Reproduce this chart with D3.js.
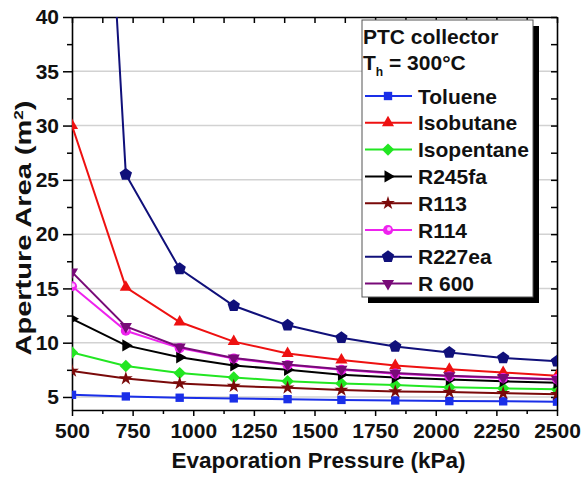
<!DOCTYPE html>
<html>
<head>
<meta charset="utf-8">
<script src="https://cdn.jsdelivr.net/npm/d3@7/dist/d3.min.js"></script>
<style>
  html, body { margin: 0; padding: 0; background: #fff; }
  svg { display: block; font-family: "Liberation Sans", Arial, sans-serif; font-weight: bold; }
</style>
</head>
<body>
<svg id="chart" width="582" height="481"></svg>
<script>
// Evaporation pressure (kPa) at which each fluid was evaluated
const pressures = [500, 722, 944, 1167, 1389, 1611, 1833, 2056, 2278, 2500];

// Required aperture area (m²) for each working fluid
const toluene    = [5.2, 5.05, 4.93, 4.87, 4.8, 4.73, 4.68, 4.62, 4.6, 4.57];
const isobutane  = [30.0, 15.1, 11.9, 10.1, 9.0, 8.4, 7.9, 7.55, 7.25, 6.95];
const isopentane = [9.1, 7.85, 7.2, 6.8, 6.45, 6.25, 6.1, 5.9, 5.8, 5.7];
const r245fa     = [12.2, 9.75, 8.65, 7.9, 7.5, 7.05, 6.8, 6.6, 6.45, 6.3];
const r113       = [7.4, 6.7, 6.25, 6.0, 5.85, 5.65, 5.5, 5.45, 5.35, 5.25];
const r114       = [15.2, 11.1, 9.5, 8.55, 7.95, 7.5, 7.15, 6.9, 6.75, 6.65];
const r227ea     = [112, 25.5, 16.8, 13.4, 11.6, 10.45, 9.65, 9.1, 8.6, 8.3];
const r600       = [16.5, 11.5, 9.6, 8.6, 8.0, 7.55, 7.2, 6.95, 6.8, 6.6];

const seriesNames  = ["Toluene", "Isobutane", "Isopentane", "R245fa", "R113", "R114", "R227ea", "R 600"];
const seriesValues = [toluene, isobutane, isopentane, r245fa, r113, r114, r227ea, r600];
const seriesColors = ["#1a2fe8", "#ee1111", "#22e622", "#000000", "#7a0a0a", "#ee22ee", "#10107a", "#780a78"];
const seriesMarkers = ["square", "triangleUp", "diamond", "triangleRight", "star", "circle", "pentagon", "triangleDown"];

const xTicks = [500, 750, 1000, 1250, 1500, 1750, 2000, 2250, 2500];
const yTicks = [5, 10, 15, 20, 25, 30, 35, 40];

const legendTitle = "PTC collector";
const xTitle = "Evaporation Pressure (kPa)";

const svg = d3.select("#chart");
const plot = { left: 72, right: 557, top: 17, bottom: 410 };

const x = d3.scaleLinear().domain([500, 2500]).range([plot.left, plot.right]);
const y = d3.scaleLinear().domain([3.8, 40]).range([plot.bottom, plot.top]);

// horizontal grid lines at major y ticks
svg.append("g").selectAll("line")
  .data(yTicks.filter(v => v < 40))
  .join("line")
  .attr("x1", plot.left).attr("x2", plot.right)
  .attr("y1", d => y(d)).attr("y2", d => y(d))
  .attr("stroke", "#d2d2d2").attr("stroke-width", 1.5);

// axes: major ticks labelled, minor ticks between them
const xMinor = d3.range(625, 2500, 250);
const yMinor = d3.range(7.5, 40, 5);

function styleAxis(g) {
  g.selectAll(".domain").attr("stroke", "#000").attr("stroke-width", 1.6);
  g.selectAll(".tick line").attr("stroke", "#000").attr("stroke-width", 1.5);
  g.selectAll(".tick text").attr("fill", "#111").style("font-size", "21px").style("font-weight", "bold")
    .style("font-family", '"Liberation Sans", Arial, sans-serif');
}

const gx = svg.append("g").attr("transform", `translate(0,${plot.bottom})`)
  .call(d3.axisBottom(x).tickValues(xTicks).tickSize(6).tickPadding(7).tickSizeOuter(0).tickFormat(d3.format("d")));
styleAxis(gx);
svg.append("g").attr("transform", `translate(0,${plot.bottom})`)
  .call(d3.axisBottom(x).tickValues(xMinor).tickSize(4).tickFormat("").tickSizeOuter(0))
  .call(g => { g.select(".domain").remove(); styleAxis(g); });

const gy = svg.append("g").attr("transform", `translate(${plot.left},0)`)
  .call(d3.axisLeft(y).tickValues(yTicks).tickSize(9).tickPadding(4).tickSizeOuter(0));
styleAxis(gy);
svg.append("g").attr("transform", `translate(${plot.left},0)`)
  .call(d3.axisLeft(y).tickValues(yMinor).tickSize(5).tickFormat("").tickSizeOuter(0))
  .call(g => { g.select(".domain").remove(); styleAxis(g); });

// mirrored top and right axes with inward ticks
const gt = svg.append("g").attr("transform", `translate(0,${plot.top})`)
  .call(d3.axisBottom(x).tickValues(xTicks.concat(xMinor)).tickSize(6).tickFormat("").tickSizeOuter(0));
styleAxis(gt);
const gr = svg.append("g").attr("transform", `translate(${plot.right},0)`)
  .call(d3.axisLeft(y).tickValues(yTicks.concat(yMinor)).tickSize(6).tickFormat("").tickSizeOuter(0));
styleAxis(gr);

// axis titles
svg.append("text")
  .attr("x", (plot.left + plot.right) / 2 + 4).attr("y", 468)
  .attr("text-anchor", "middle").attr("fill", "#111")
  .style("font-size", "22.5px").text(xTitle);

const yTitle = svg.append("text")
  .attr("transform", "translate(31,228) rotate(-90)")
  .attr("text-anchor", "middle").attr("fill", "#111")
  .attr("textLength", 255).attr("lengthAdjust", "spacingAndGlyphs")
  .style("font-size", "22px");
yTitle.append("tspan").text("Aperture Area (m");
yTitle.append("tspan").attr("dy", -8).style("font-size", "13px").text("2");
yTitle.append("tspan").attr("dy", 8).text(")");

// marker shapes
function polygon(n, r, rot) {
  const pts = d3.range(n).map(i => {
    const a = rot + i * 2 * Math.PI / n;
    return [r * Math.cos(a), r * Math.sin(a)];
  });
  return "M" + pts.map(p => p.join(",")).join("L") + "Z";
}
function markerPath(kind) {
  switch (kind) {
    case "square": return d3.symbol(d3.symbolSquare, 70)();
    case "diamond": return polygon(4, 6.2, -Math.PI / 2);
    case "triangleUp": return polygon(3, 7, -Math.PI / 2);
    case "triangleDown": return polygon(3, 7, Math.PI / 2);
    case "triangleRight": return polygon(3, 7, 0);
    case "star": return d3.symbol(d3.symbolStar, 60)();
    case "circle": return d3.symbol(d3.symbolCircle, 80)();
    case "pentagon": return polygon(5, 6.5, -Math.PI / 2);
  }
}

// clip series to the plotting area
svg.append("clipPath").attr("id", "plotClip")
  .append("rect").attr("x", plot.left).attr("y", plot.top)
  .attr("width", plot.right - plot.left).attr("height", plot.bottom - plot.top);

const line = d3.line().x(d => x(d[0])).y(d => y(d[1]));
const seriesG = svg.append("g").attr("clip-path", "url(#plotClip)");

seriesNames.forEach((name, i) => {
  const pts = pressures.map((p, j) => [p, seriesValues[i][j]]);
  const g = seriesG.append("g");
  g.append("path").datum(pts).attr("d", line)
    .attr("fill", "none").attr("stroke", seriesColors[i]).attr("stroke-width", 2);
  g.selectAll("path.mk").data(pts).join("path").attr("class", "mk")
    .attr("transform", d => `translate(${x(d[0])},${y(d[1])})`)
    .attr("d", markerPath(seriesMarkers[i]))
    .attr("fill", seriesColors[i]);
  if (seriesMarkers[i] === "circle") {
    g.selectAll("circle.hl").data(pts).join("circle").attr("class", "hl")
      .attr("cx", d => x(d[0]) + 1).attr("cy", d => y(d[1]) - 1).attr("r", 2)
      .attr("fill", "#ffc0ff");
  }
});

// legend with drop shadow
const lg = { x: 362, y: 20, w: 171, h: 277, off: 6 };
svg.append("rect").attr("x", lg.x + lg.off).attr("y", lg.y + lg.off)
  .attr("width", lg.w).attr("height", lg.h).attr("fill", "#000");
svg.append("rect").attr("x", lg.x).attr("y", lg.y)
  .attr("width", lg.w).attr("height", lg.h)
  .attr("fill", "#fff").attr("stroke", "#555").attr("stroke-width", 1);

svg.append("text").attr("x", lg.x + 1).attr("y", 44).attr("fill", "#111")
  .style("font-size", "21px").text(legendTitle);
const th = svg.append("text").attr("x", lg.x + 1).attr("y", 70).attr("fill", "#111").style("font-size", "21px");
th.append("tspan").text("T");
th.append("tspan").attr("dy", 6).style("font-size", "12px").text("h");
th.append("tspan").attr("dy", -6).text(" = 300°C");

seriesNames.forEach((name, i) => {
  const cy = 96 + i * 26.8;
  const g = svg.append("g");
  g.append("line").attr("x1", 365).attr("x2", 412).attr("y1", cy).attr("y2", cy)
    .attr("stroke", seriesColors[i]).attr("stroke-width", 2);
  g.append("path").attr("transform", `translate(388,${cy})`)
    .attr("d", markerPath(seriesMarkers[i])).attr("fill", seriesColors[i]);
  if (seriesMarkers[i] === "circle") {
    g.append("circle").attr("cx", 389).attr("cy", cy - 1).attr("r", 2).attr("fill", "#ffc0ff");
  }
  g.append("text").attr("x", 418).attr("y", cy + 7.5).attr("fill", "#111")
    .style("font-size", "21px").text(name);
});
</script>
</body>
</html>
